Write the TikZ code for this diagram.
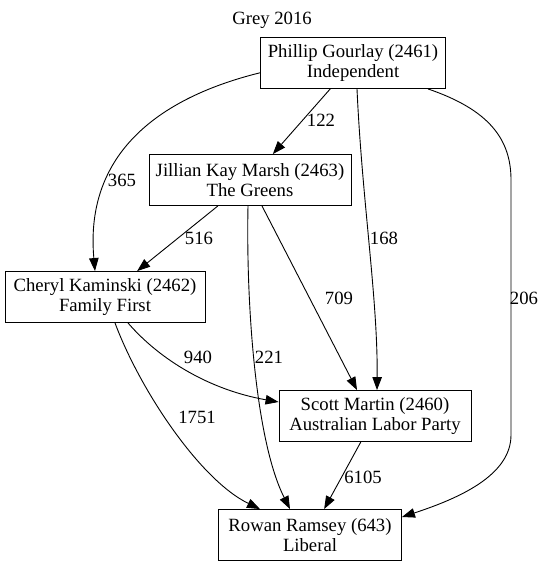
\documentclass[tikz,border=0pt]{standalone}
\usepackage{fontspec}
\setmainfont{Liberation Serif}
\usetikzlibrary{arrows.meta}
\begin{document}
\begin{tikzpicture}[x=1pt, y=1pt,
    box/.style={rectangle, draw, line width=0.9pt, align=center, minimum height=51pt, inner xsep=0pt,
      font=\fontsize{18.7pt}{20pt}\selectfont},
    edge/.style={draw, line width=0.9pt, -{Triangle[length=13pt, width=9.5pt]}},
    lbl/.style={font=\fontsize{18.7pt}{20pt}\selectfont, inner sep=0pt}]
    \useasboundingbox (0, 0) rectangle (542, -567);

    % タイトル
    \node[lbl] (title) at (272, -20) {Grey 2016};

    % 候補者
    \node[box, minimum width=185pt] (PG) at (353, -63) {Phillip Gourlay (2461)\\Independent};
    \node[box, minimum width=202pt] (JKM) at (250, -180) {Jillian Kay Marsh (2463)\\The Greens};
    \node[box, minimum width=200pt] (CK) at (105, -297) {Cheryl Kaminski (2462)\\Family First};
    \node[box, minimum width=192pt] (SM) at (375, -416) {Scott Martin (2460)\\Australian Labor Party};
    \node[box, minimum width=183pt] (RR) at (310, -535) {Rowan Ramsey (643)\\Liberal};

    % 線を引く
    \draw[edge] (PG) -- (JKM);
    \draw[edge] (PG.186) .. controls (150, -100) and (85, -160) .. ([xshift=-10pt]CK.north);
    \draw[edge] ([xshift=4pt]PG.south) .. controls (362, -200) and (378, -300) .. ([xshift=2pt]SM.north);
    \draw[edge] ([xshift=75pt]PG.south) .. controls (490, -110) and (511, -140) .. (511, -180)
      -- (511, -435) .. controls (511, -475) and (460, -498) .. ([yshift=18pt]RR.east);
    \draw[edge] (JKM) -- (CK);
    \draw[edge] ([xshift=12pt]JKM.south) -- ([xshift=-18pt]SM.north);
    \draw[edge] ([xshift=-2pt]JKM.south) .. controls (246, -300) and (255, -440) .. ([xshift=-20pt]RR.north);
    \draw[edge] ([xshift=23pt]CK.south) .. controls (160, -360) and (210, -390) .. ([yshift=14pt]SM.west);
    \draw[edge] ([xshift=10pt]CK.south) .. controls (140, -390) and (200, -480) .. ([xshift=-50pt]RR.north);
    \draw[edge] (SM) -- (RR);

    % 値を入れる
    \node[lbl] (l122) at (321, -120) {122};
    \node[lbl] (l365) at (122, -180) {365};
    \node[lbl] (l168) at (384, -238) {168};
    \node[lbl] (l206) at (524, -298) {206};
    \node[lbl] (l516) at (199, -238) {516};
    \node[lbl] (l709) at (339, -298) {709};
    \node[lbl] (l221) at (269, -357) {221};
    \node[lbl] (l940) at (198, -357) {940};
    \node[lbl] (l1751) at (197, -417) {1751};
    \node[lbl] (l6105) at (363, -477) {6105};

  \end{tikzpicture}
\end{document}
